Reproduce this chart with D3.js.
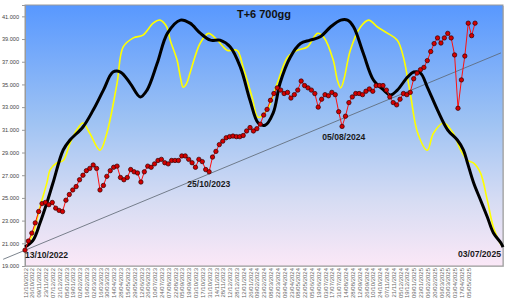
<!DOCTYPE html>
<html><head><meta charset="utf-8">
<script src="https://cdn.jsdelivr.net/npm/d3@7"></script>
<style>body{margin:0;background:#fff}svg{display:block;font-family:"Liberation Sans",Arial,sans-serif}</style>
</head><body><svg id="c" width="508" height="300"></svg>
<script>
const title = "T+6 700gg";
const tickDates = ["12/10/2022","26/10/2022","09/11/2022","23/11/2022","07/12/2022","21/12/2022","05/01/2023","19/01/2023","02/02/2023","16/02/2023","02/03/2023","16/03/2023","30/03/2023","14/04/2023","28/04/2023","15/05/2023","29/05/2023","12/06/2023","26/06/2023","10/07/2023","24/07/2023","07/08/2023","22/08/2023","05/09/2023","19/09/2023","03/10/2023","17/10/2023","31/10/2023","14/11/2023","28/11/2023","12/12/2023","28/12/2023","12/01/2024","26/01/2024","09/02/2024","23/02/2024","08/03/2024","22/03/2024","09/04/2024","23/04/2024","08/05/2024","22/05/2024","05/06/2024","19/06/2024","03/07/2024","17/07/2024","31/07/2024","14/08/2024","28/08/2024","12/09/2024","26/09/2024","10/10/2024","24/10/2024","07/11/2024","21/11/2024","05/12/2024","19/12/2024","09/01/2025","23/01/2025","06/02/2025","20/02/2025","06/03/2025","20/03/2025","03/04/2025","17/04/2025","05/05/2025"];
const tickEvery = 10;          // trading days between axis labels
const totalDays = 701;         // 12/10/2022 .. 03/07/2025 (trading days)
const yTicks = [19,21,23,25,27,29,31,33,35,37,39,41];
const yDomain = [19, 42];

// price (every 5 trading days)
const priceStep = 5;
const price = [20.4,21.2,21.9,22.8,23.8,24.5,24.6,24.4,24.6,24.1,23.9,23.8,24.8,25.3,25.7,26.0,26.6,27.0,27.4,27.6,
27.9,27.6,25.7,26.1,26.9,27.4,27.7,27.8,26.8,26.6,26.8,27.5,27.3,27.2,26.4,27.3,27.8,27.7,28.0,28.3,
28.4,28.1,28.0,28.3,28.3,28.3,28.7,28.7,28.4,28.1,27.7,28.4,28.2,27.5,27.3,28.6,29.1,29.7,30.0,30.3,
30.4,30.45,30.4,30.4,30.5,30.9,31.2,30.9,31.1,31.5,32.3,32.8,33.6,34.2,34.7,34.5,34.2,34.3,33.8,34.1,
34.5,35.3,34.9,34.7,34.5,34.2,33.0,33.7,34.1,34.0,34.3,34.1,32.6,31.3,32.2,33.4,33.9,34.2,34.2,34.1,
34.4,34.6,34.4,34.9,34.9,34.9,34.5,33.9,33.4,33.2,33.7,34.2,34.1,34.3,35.5,36.0,36.3,36.5,37.1,37.9,
38.6,39.1,38.65,39.1,39.5,39.1,37.6,32.9,35.4,37.5,40.4,39.3,40.4];

// cycle curves: trading-day index and value
const blackDay = [0,12,22,32,41,56,66,85,100,115,129,140,154,169,179,194,209,228,242,257,272,286,301,316,330,342,352,364,374,389,404,418,433,448,463,473,482,496,511,526,536,546,561,570,580,590,605,620,634,643,649,658,668,678,687,698,701];
const blackVal = [20.67,21.29,22.79,24.55,26.31,29.22,30.1,31.25,32.74,34.5,36.09,36.09,35.12,33.89,34.5,36.88,39.52,40.67,40.4,39.52,38.9,38.9,38.3,36.5,33.6,31.6,31.4,32.5,35.1,37.4,38.6,38.9,39.2,40.06,40.67,40.67,40.06,37.77,35.39,34.5,34.07,34.5,35.65,36.09,36.0,34.77,32.74,30.98,30.1,29.22,28.07,26.31,24.82,23.32,21.91,21.03,20.67];
const yellowDay = [3,12,22,32,37,47,56,66,76,85,95,110,120,135,144,159,173,188,198,208,213,223,228,232,237,242,257,269,282,297,311,320,333,342,355,370,385,399,414,429,438,452,458,463,468,477,492,504,517,532,546,555,565,576,590,599,614,628,639,649,658,668,678,687,698];
const yellowVal = [20.85,21.9,24.2,26.3,27.5,28.1,28.3,29.8,31.0,31.6,30.7,29.2,30.7,35.1,38.3,39.1,39.35,40.4,40.67,40.06,38.9,37.15,35.6,34.75,35.1,36.0,38.65,39.5,38.9,38.0,38.0,36.5,33.9,32.1,32.74,35.1,37.4,38.0,38.3,39.5,39.17,37.15,35.4,34.7,35.5,38.0,40.06,40.67,40.06,39.5,38.9,37.4,34.2,30.7,29.2,30.7,31.6,30.7,29.2,28.3,28.07,27.2,24.8,22.4,20.85];

// trend line anchors (day index, value)
const trendDay = [-32, 698];
const trendVal = [19.59, 37.78];

// annotations
const notes = [
  {text:"13/10/2022", day:0,   val:19.7, anchor:"start"},
  {text:"25/10/2023", day:238, val:26.0, anchor:"start"},
  {text:"05/08/2024", day:436, val:30.1, anchor:"start"},
  {text:"03/07/2025", day:698, val:19.8, anchor:"end"}
];

const svg = d3.select("#c");
const M = {l:25, r:503, t:5, b:266};
const x = d3.scaleLinear().domain([0,totalDays]).range([M.l,M.r]);
const y = d3.scaleLinear().domain(yDomain).range([M.b,M.t]);

const defs = svg.append("defs");
const g = defs.append("linearGradient").attr("id","bg").attr("x1",0).attr("y1",0).attr("x2",0).attr("y2",1);
[["0%","#5898ff"],["45%","#9fc3f3"],["75%","#d6dcf3"],["100%","#fbe8f7"]].forEach(s=>g.append("stop").attr("offset",s[0]).attr("stop-color",s[1]));

svg.append("rect").attr("x",M.l+1).attr("y",M.t+1).attr("width",M.r-M.l).attr("height",M.b-M.t).attr("fill","#c8c8c8");
svg.append("rect").attr("x",M.l).attr("y",M.t).attr("width",M.r-M.l).attr("height",M.b-M.t)
  .attr("fill","url(#bg)").attr("stroke","#9a9a9a").attr("stroke-width",1);

// y axis
const ya = svg.append("g").attr("transform",`translate(${M.l},0)`)
  .call(d3.axisLeft(y).tickValues(yTicks).tickFormat(d3.format(".3f")).tickSize(3));
ya.select(".domain").attr("stroke","#9a9a9a");
ya.selectAll(".tick line").attr("stroke","#9a9a9a");
ya.selectAll("text").attr("font-size",5.6).attr("fill","#444").attr("font-family","Liberation Sans, Arial");

// x axis labels
const xa = svg.append("g").attr("transform",`translate(0,${M.b})`)
  .call(d3.axisBottom(x).tickValues(tickDates.map((d,i)=>i*tickEvery)).tickFormat((d,i)=>tickDates[i]).tickSize(0));
xa.select(".domain").remove();
xa.selectAll("text").attr("font-size",6).attr("fill","#666").attr("font-family","Liberation Sans, Arial")
  .attr("transform","rotate(-90)").attr("text-anchor","end").attr("x",-2).attr("y",0).attr("dy","0.35em");

// trend line
svg.append("line").attr("x1",x(trendDay[0])).attr("y1",y(trendVal[0])).attr("x2",x(trendDay[1])).attr("y2",y(trendVal[1]))
  .attr("stroke","#5a6470").attr("stroke-width",0.8);

const curve = d3.line().x(d=>x(d[0])).y(d=>y(d[1])).curve(d3.curveCatmullRom.alpha(0.5));
svg.append("path").attr("d",curve(d3.zip(yellowDay,yellowVal))).attr("fill","none").attr("stroke","#ffff00").attr("stroke-width",1.6);
svg.append("path").attr("d",curve(d3.zip(blackDay,blackVal))).attr("fill","none").attr("stroke","#000").attr("stroke-width",3);

const pts = price.map((v,i)=>[i*priceStep, v]);
svg.append("path").attr("d",d3.line().x(d=>x(d[0])).y(d=>y(d[1]))(pts)).attr("fill","none").attr("stroke","#ff1010").attr("stroke-width",1);
svg.append("g").selectAll("circle").data(pts).join("circle")
  .attr("cx",d=>x(d[0])).attr("cy",d=>y(d[1])).attr("r",2.2)
  .attr("fill","#d40000").attr("stroke","#300").attr("stroke-width",0.7);

// title
svg.append("text").attr("x",264).attr("y",18).attr("text-anchor","middle").attr("font-size",11).attr("font-weight","bold").attr("fill","#111").text(title);

svg.append("g").selectAll("text").data(notes).join("text")
  .attr("x",d=>x(d.day)).attr("y",d=>y(d.val)).attr("text-anchor",d=>d.anchor)
  .attr("font-size",8.6).attr("font-weight","bold").attr("fill","#1a1a1a").text(d=>d.text);
</script></body></html>
